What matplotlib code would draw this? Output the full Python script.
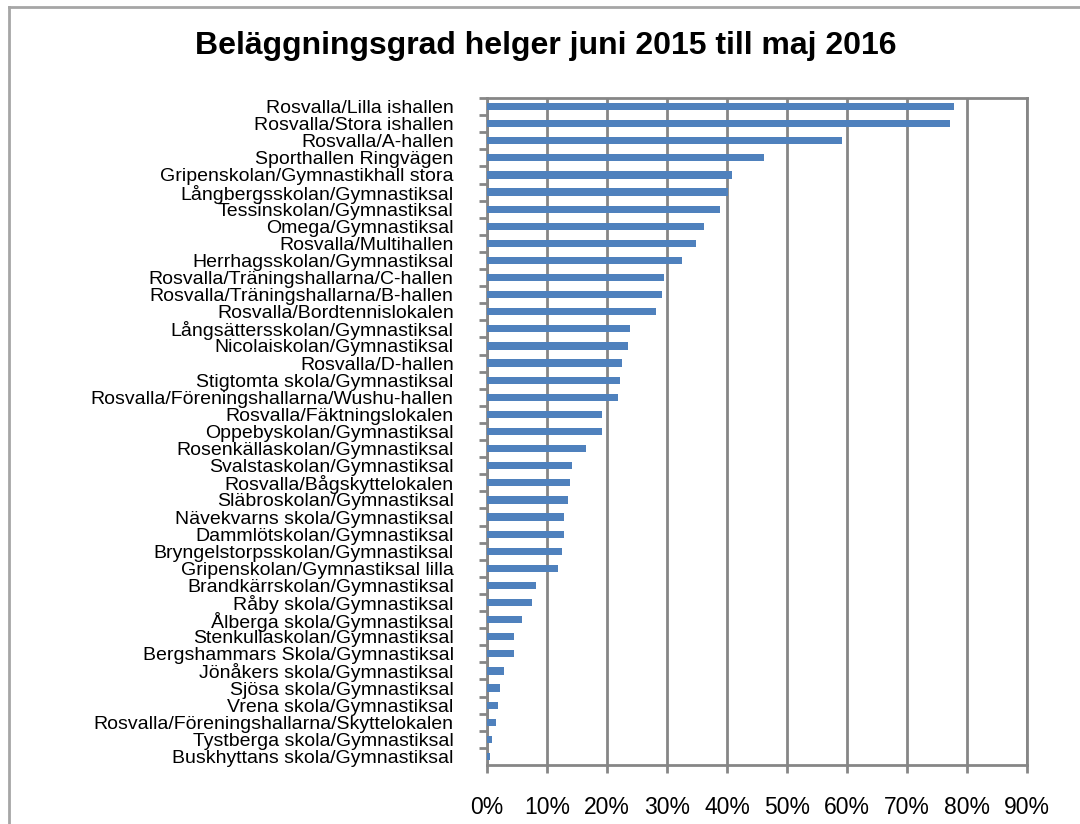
import matplotlib
matplotlib.use("Agg")
import matplotlib.pyplot as plt
from matplotlib.lines import Line2D
from matplotlib.ticker import FuncFormatter, MultipleLocator

# Anläggningar och beläggningsgrad (andel, 0-1), i ordning uppifrån och ned
anlaggningar = [
    "Rosvalla/Lilla ishallen",
    "Rosvalla/Stora ishallen",
    "Rosvalla/A-hallen",
    "Sporthallen Ringvägen",
    "Gripenskolan/Gymnastikhall stora",
    "Långbergsskolan/Gymnastiksal",
    "Tessinskolan/Gymnastiksal",
    "Omega/Gymnastiksal",
    "Rosvalla/Multihallen",
    "Herrhagsskolan/Gymnastiksal",
    "Rosvalla/Träningshallarna/C-hallen",
    "Rosvalla/Träningshallarna/B-hallen",
    "Rosvalla/Bordtennislokalen",
    "Långsättersskolan/Gymnastiksal",
    "Nicolaiskolan/Gymnastiksal",
    "Rosvalla/D-hallen",
    "Stigtomta skola/Gymnastiksal",
    "Rosvalla/Föreningshallarna/Wushu-hallen",
    "Rosvalla/Fäktningslokalen",
    "Oppebyskolan/Gymnastiksal",
    "Rosenkällaskolan/Gymnastiksal",
    "Svalstaskolan/Gymnastiksal",
    "Rosvalla/Bågskyttelokalen",
    "Släbroskolan/Gymnastiksal",
    "Nävekvarns skola/Gymnastiksal",
    "Dammlötskolan/Gymnastiksal",
    "Bryngelstorpsskolan/Gymnastiksal",
    "Gripenskolan/Gymnastiksal lilla",
    "Brandkärrskolan/Gymnastiksal",
    "Råby skola/Gymnastiksal",
    "Ålberga skola/Gymnastiksal",
    "Stenkullaskolan/Gymnastiksal",
    "Bergshammars Skola/Gymnastiksal",
    "Jönåkers skola/Gymnastiksal",
    "Sjösa skola/Gymnastiksal",
    "Vrena skola/Gymnastiksal",
    "Rosvalla/Föreningshallarna/Skyttelokalen",
    "Tystberga skola/Gymnastiksal",
    "Buskhyttans skola/Gymnastiksal",
]
belaggning = [
    0.778, 0.772, 0.592, 0.462, 0.408, 0.402, 0.388, 0.362, 0.348, 0.325,
    0.295, 0.292, 0.282, 0.238, 0.235, 0.225, 0.222, 0.218, 0.192, 0.192,
    0.165, 0.142, 0.138, 0.135, 0.128, 0.128, 0.125, 0.118, 0.082, 0.075,
    0.058, 0.045, 0.045, 0.028, 0.022, 0.018, 0.015, 0.008, 0.005,
]

grid_farg = "#868686"

fig = plt.figure(figsize=(10.8, 8.24), dpi=100)
ax = fig.add_axes([487 / 1080, 1 - 765 / 824, 540 / 1080, 667 / 824])

pos = list(range(len(anlaggningar)))
ax.barh(pos, belaggning, height=0.42, color="#4F81BD", zorder=3)

ax.set_xlim(0, 0.9)
ax.set_ylim(len(anlaggningar) - 0.5, -0.5)

# rutnät och ramar
ax.xaxis.set_major_locator(MultipleLocator(0.1))
ax.xaxis.set_major_formatter(FuncFormatter(lambda v, p: f"{v * 100:.0f}%"))
ax.grid(axis="x", color=grid_farg, linewidth=2, zorder=0)
for s in ax.spines.values():
    s.set_color(grid_farg)
    s.set_linewidth(2)

ax.set_yticks(pos)
ax.set_yticklabels(anlaggningar, fontsize=14, family="Liberation Sans")
ax.set_yticks([p + 0.5 for p in pos[:-1]] + [-0.5], minor=True)
ax.tick_params(axis="y", which="major", length=0, pad=24)
ax.tick_params(axis="y", which="minor", length=6, width=2, color=grid_farg, direction="out")
ax.tick_params(axis="x", length=6, width=2, color=grid_farg, direction="out", pad=16)
for t in ax.get_xticklabels():
    t.set_fontsize(16.5)
    t.set_family("Liberation Sans")

fig.text(546 / 1080, 1 - 46 / 824, "Beläggningsgrad helger juni 2015 till maj 2016",
         ha="center", va="center", fontsize=23, fontweight="bold", family="Liberation Sans")

# ram runt diagrammet (syns bara upptill och till vänster)
fig.add_artist(Line2D([9 / 1080, 9 / 1080], [0, 1 - 7 / 824], color="#A6A6A6", linewidth=2,
                      transform=fig.transFigure))
fig.add_artist(Line2D([9 / 1080, 1], [1 - 7 / 824, 1 - 7 / 824], color="#A6A6A6", linewidth=2,
                      transform=fig.transFigure))

fig.savefig("out.png", dpi=100)
